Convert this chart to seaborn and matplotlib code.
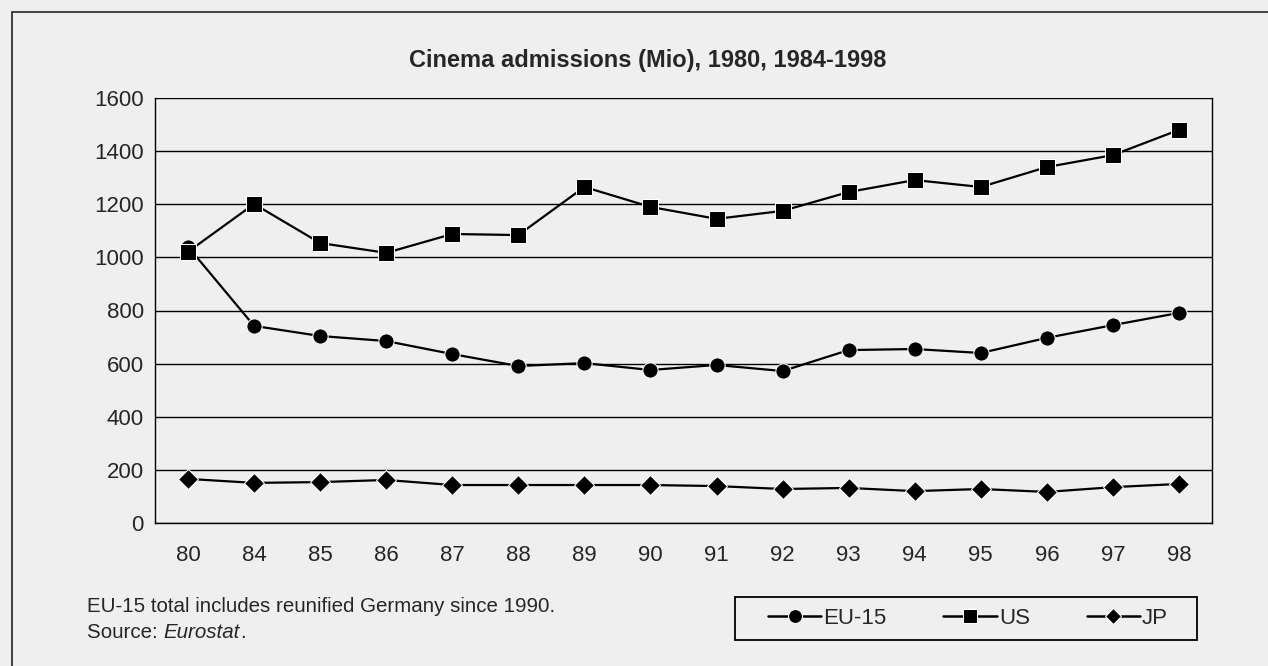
import numpy as np
import pandas as pd
import seaborn as sns
from matplotlib import pyplot as plt
from matplotlib.patches import Rectangle

years = ['80', '84', '85', '86', '87', '88', '89', '90', '91', '92', '93', '94', '95', '96', '97', '98']
eu15 = [1040, 742, 704, 685, 636, 591, 602, 576, 595, 572, 651, 655, 640, 697, 745, 791]
us = [1021, 1201, 1054, 1017, 1088, 1084, 1265, 1190, 1145, 1175, 1246, 1291, 1265, 1340, 1385, 1480]
jp = [166, 151, 154, 162, 143, 143, 143, 143, 139, 128, 132, 120, 128, 117, 135, 147]
series = ['EU-15', 'US', 'JP']

df = pd.DataFrame({'year': years * 3,
                   'pos': list(range(len(years))) * 3,
                   'value': eu15 + us + jp,
                   'series': np.repeat(series, len(years))})

bg = '#efefef'
sns.set_style('white')
plt.rcParams['font.family'] = ['Liberation Sans', 'DejaVu Sans']

fig = plt.figure(figsize=(12.68, 6.66), dpi=100, facecolor=bg)
ax = fig.add_axes([155 / 1268, 1 - 523 / 666, 1057 / 1268, 425 / 666])
ax.set_facecolor(bg)

sns.lineplot(data=df, x='pos', y='value', hue='series', style='series',
             palette=['black'] * 3, markers={'EU-15': 'o', 'US': 's', 'JP': 'D'},
             dashes=False, markersize=11, linewidth=1.6, ax=ax, legend=True)
for ln in ax.lines:
    if ln.get_marker() == 'D':
        ln.set_markersize(10.5)

ax.set_xlim(-0.5, len(years) - 0.5)
ax.set_ylim(0, 1600)
ax.set_yticks(range(0, 1601, 200))
ax.set_xticks(range(len(years)))
ax.set_xticklabels(years)
ax.set_xticks(np.arange(-0.5, len(years), 1), minor=True)
ax.tick_params(axis='x', which='major', length=0, pad=16, labelsize=16)
ax.tick_params(axis='x', which='minor', length=5, width=1, color='black', direction='out')
ax.tick_params(axis='y', length=5, width=1, color='black', labelsize=16, pad=3)
ax.yaxis.grid(True, color='black', linewidth=1)
ax.set_axisbelow(True)
for s in ['left', 'right', 'bottom']:
    ax.spines[s].set_color('black')
    ax.spines[s].set_linewidth(1)
ax.spines['top'].set_visible(False)
ax.set_xlabel('')
ax.set_ylabel('')

fig.text(648 / 1268, 1 - 60 / 666, 'Cinema admissions (Mio), 1980, 1984-1998',
         ha='center', va='center', fontsize=17, fontweight='bold')

# legend: handles without frame, box drawn separately
handles, labels = ax.get_legend_handles_labels()
ax.get_legend().remove()
for h in handles:
    h.set_markersize(10 if h.get_marker() != 'D' else 8.5)
    h.set_linewidth(1.8)
leg = fig.legend(handles, labels, loc='center', bbox_to_anchor=(968 / 1268, 1 - 618 / 666),
                 ncol=3, frameon=False, fontsize=16, handlelength=2.4,
                 handletextpad=0.1, columnspacing=2.55)
fig.patches.append(Rectangle((735 / 1268, 1 - 640 / 666), 462 / 1268, 43 / 666,
                             transform=fig.transFigure, fill=False,
                             edgecolor='black', linewidth=1.3))

fs = 14.8
fig.text(87 / 1268, 1 - 607 / 666, 'EU-15 total includes reunified Germany since 1990.',
         ha='left', va='center', fontsize=fs)
t = fig.text(87 / 1268, 1 - 632 / 666, 'Source: ', ha='left', va='center', fontsize=fs)
fig.canvas.draw()
bb = t.get_window_extent()
t2 = fig.text(bb.x1 / 1268, 1 - 632 / 666, 'Eurostat', ha='left', va='center', fontsize=fs, style='italic')
bb2 = t2.get_window_extent()
fig.text(bb2.x1 / 1268, 1 - 632 / 666, '.', ha='left', va='center', fontsize=fs)

fig.patches.append(Rectangle((12 / 1268, -0.05), 1.2, 1.05 - 12 / 666, transform=fig.transFigure,
                             fill=False, edgecolor='#333333', linewidth=1.3))

fig.savefig('out.png', dpi=100, facecolor=bg)
